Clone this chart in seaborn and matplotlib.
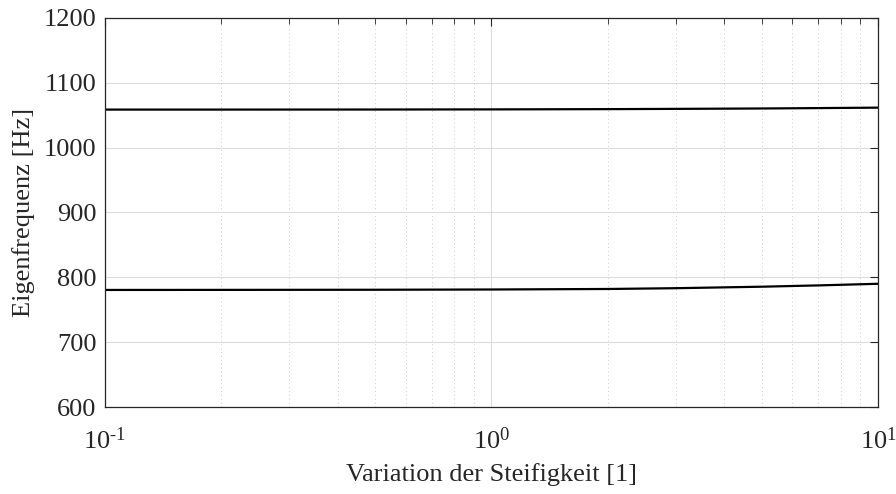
import matplotlib
matplotlib.use("Agg")
import matplotlib.pyplot as plt
import seaborn as sns
import pandas as pd
import numpy as np
from matplotlib.ticker import LogLocator, NullFormatter, FuncFormatter

x_vals = [0.1, 0.2, 0.5, 1.0, 2.0, 3.0, 5.0, 7.0, 10.0]
mode1 = [780.5, 780.6, 780.8, 781.2, 782.0, 783.2, 785.5, 787.5, 790.0]
mode2 = [1058.5, 1058.5, 1058.6, 1058.8, 1059.2, 1059.6, 1060.2, 1060.8, 1061.5]

df = pd.DataFrame({
    "x": x_vals * 2,
    "f": mode1 + mode2,
    "mode": ["1"] * len(x_vals) + ["2"] * len(x_vals),
})

sns.set_theme(style="white")
plt.rcParams["font.family"] = ["Liberation Serif", "DejaVu Serif"]
plt.rcParams["mathtext.fontset"] = "custom"
plt.rcParams["mathtext.rm"] = "Liberation Serif"
plt.rcParams["mathtext.it"] = "Liberation Serif:italic"

fig = plt.figure(figsize=(8.96, 4.94), dpi=100)
ax = fig.add_axes([0.117, 0.176, 0.863, 0.788])

sns.lineplot(data=df, x="x", y="f", units="mode", estimator=None,
             color="black", linewidth=1.6, ax=ax, legend=False)

ax.set_xscale("log")
ax.set_xlim(0.1, 10)
ax.set_ylim(600, 1200)
ax.set_yticks([600, 700, 800, 900, 1000, 1100, 1200])
ax.set_xticks([0.1, 1, 10])
def fmt(v, pos):
    e = int(round(np.log10(v)))
    if e < 0:
        return r"$\mathregular{10^{\text{-}%d}}$" % (-e)
    return r"$\mathregular{10^{%d}}$" % e
ax.xaxis.set_major_formatter(FuncFormatter(fmt))
ax.xaxis.set_minor_locator(LogLocator(base=10, subs=range(2, 10)))
ax.xaxis.set_minor_formatter(NullFormatter())

ax.grid(which="major", color="#dcdcdc", linewidth=0.8, linestyle="-")
ax.grid(which="minor", axis="x", color="#cccccc", linewidth=0.7, linestyle=(0, (1, 3)))
ax.set_axisbelow(True)

for s in ax.spines.values():
    s.set_color("#262626")
    s.set_linewidth(0.9)

ax.tick_params(which="both", direction="in", top=True, right=True,
               colors="#262626", labelsize=19, labelcolor="#262626")
ax.tick_params(which="major", length=6, width=0.8)
ax.tick_params(which="minor", length=4, width=0.6)
ax.tick_params(axis="x", pad=15)
ax.tick_params(axis="y", pad=6)

ax.set_xlabel("Variation der Steifigkeit [1]", fontsize=19, color="#262626", labelpad=6)
ax.set_ylabel("Eigenfrequenz [Hz]", fontsize=19, color="#262626", labelpad=6)

fig.savefig("out.png", dpi=100)
